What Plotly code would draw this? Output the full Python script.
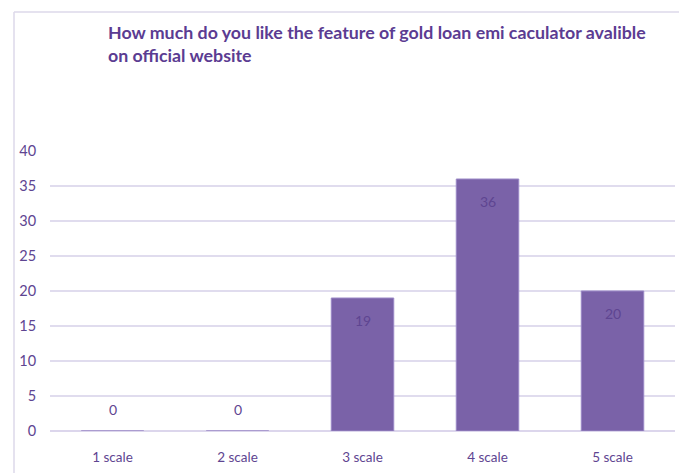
import plotly.graph_objects as go

categories = ["1 scale", "2 scale", "3 scale", "4 scale", "5 scale"]
values = [0, 0, 19, 36, 20]
y_ticks = [0, 5, 10, 15, 20, 25, 30, 35, 40]

title_text = "How much do you like the feature of gold loan emi caculator avalible<br>on official website"

FONT = "Lato, sans-serif"
TXT = "#5E4591"

fig = go.Figure()
fig.add_trace(go.Bar(
    x=categories, y=values,
    marker=dict(color="#7A62A8", line=dict(color="#9A88C6", width=1)),
    width=0.5,
    hoverinfo="x+y",
))

annotations = []
for c, v in zip(categories, values):
    annotations.append(dict(
        x=c, y=v, xref="x", yref="y", text=str(v), showarrow=False,
        yshift=-22 if v > 0 else 22,
        font=dict(family=FONT, size=14, color=TXT),
    ))

fig.update_layout(
    width=687, height=473,
    margin=dict(l=42, r=20, t=143, b=50),
    paper_bgcolor="white", plot_bgcolor="white",
    showlegend=False,
    annotations=annotations,
    title=dict(
        text=title_text,
        font=dict(family=FONT, size=17.8, color="#5B3C92", weight="bold"),
        xref="container", yref="container",
        x=100/687, xanchor="left",
        y=1 - 31/473, yanchor="top",
    ),
    xaxis=dict(
        showgrid=False, zeroline=False, showline=False,
        tickfont=dict(family=FONT, size=13.5, color=TXT),
        ticks="outside", ticklen=14, tickcolor="white",
    ),
    yaxis=dict(
        range=[0, 40], tickvals=y_ticks,
        showgrid=True, gridcolor="#E0DCEE", gridwidth=1.5,
        zeroline=True, zerolinecolor="#DCD6EC", zerolinewidth=1.5,
        showline=False,
        tickfont=dict(family=FONT, size=14.5, color=TXT),
        ticks="outside", ticklen=10, tickcolor="white",
    ),
    shapes=[
        dict(type="line", xref="paper", yref="paper",
             x0=-36/625, x1=700/625, y0=419/280, y1=419/280,
             line=dict(color="#DCD8EA", width=1.5)),
        dict(type="line", xref="paper", yref="paper",
             x0=-36/625, x1=-36/625, y0=419/280, y1=-60/280,
             line=dict(color="#DCD8EA", width=1.5)),
    ],
)

fig.write_html("out.html")
